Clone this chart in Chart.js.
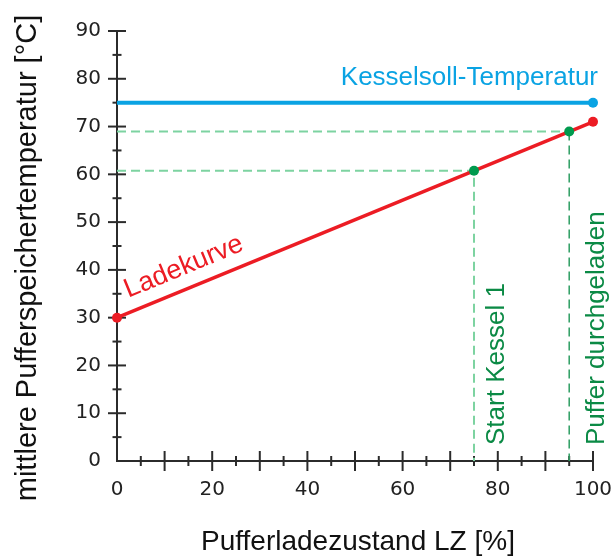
<!DOCTYPE html>
<html>
<head>
<meta charset="utf-8">
<script src="https://cdn.jsdelivr.net/npm/chart.js@4"></script>
<style>
  body { margin: 0; background: #fff; }
</style>
</head>
<body>
<canvas id="ladekurve" width="615" height="556"></canvas>
<script>
// Daten
const lzWerte = [0, 100];            // Pufferladezustand LZ [%]
const ladekurveTemp = [30, 71];      // Ladekurve [°C]
const kesselsollTemp = [75, 75];     // Kesselsoll-Temperatur [°C]
const markerLz = [75, 95];           // Start Kessel 1, Puffer durchgeladen
const markerTemp = [60.75, 68.95];
const markerTexte = ['Start Kessel 1', 'Puffer durchgeladen'];
const xTickLabels = [0, 20, 40, 60, 80, 100];
const yTickLabels = [0, 10, 20, 30, 40, 50, 60, 70, 80, 90];
const xTitel = 'Pufferladezustand LZ [%]';
const yTitel = 'mittlere Pufferspeichertemperatur [°C]';

// Farben
const blau = '#0aa3e3';
const rot = '#ec1c24';
const gruen = '#009a4e';
const gruenText = '#0b8a45';
const gruenHell = '#7dd3a1';
const achsenFarbe = '#2b2b2b';
const schrift = '"Liberation Sans", Arial, sans-serif';

const punkte = (xs, ys) => xs.map((x, i) => ({ x: x, y: ys[i] }));

// Achsen mit Haupt- und Nebenstrichen (kreuzen die Achse), Beschriftungen
const achsenPlugin = {
    id: 'achsen',
    beforeDatasetsDraw(chart) {
        const { ctx, scales: { x, y } } = chart;
        const x0 = x.getPixelForValue(0);
        const y0 = y.getPixelForValue(0);
        ctx.save();
        ctx.strokeStyle = achsenFarbe;
        ctx.lineWidth = 2;
        ctx.beginPath();
        ctx.moveTo(x0, y.getPixelForValue(y.max));
        ctx.lineTo(x0, y0);
        ctx.lineTo(x.getPixelForValue(x.max), y0);
        ctx.stroke();
        for (let v = 5; v <= y.max; v += 5) {
            const len = v % 10 === 0 ? 9 : 4.5;
            const py = y.getPixelForValue(v);
            ctx.beginPath();
            ctx.moveTo(x0 - len, py);
            ctx.lineTo(x0 + len, py);
            ctx.stroke();
        }
        for (let v = 5; v <= x.max; v += 5) {
            const len = v % 10 === 0 ? 10 : 5;
            const px = x.getPixelForValue(v);
            ctx.beginPath();
            ctx.moveTo(px, y0 - len);
            ctx.lineTo(px, y0 + len);
            ctx.stroke();
        }
        ctx.restore();
    },
    afterDatasetsDraw(chart) {
        const { ctx, scales: { x, y } } = chart;
        const y0 = y.getPixelForValue(0);
        ctx.save();
        ctx.font = '26px ' + schrift;
        ctx.textBaseline = 'alphabetic';

        // Kesselsoll-Temperatur
        ctx.fillStyle = blau;
        ctx.textAlign = 'right';
        ctx.fillText('Kesselsoll-Temperatur', x.getPixelForValue(100) + 5, y.getPixelForValue(kesselsollTemp[1]) - 18);

        // Ladekurve, entlang der Linie gedreht
        const ax = x.getPixelForValue(lzWerte[0]), ay = y.getPixelForValue(ladekurveTemp[0]);
        const bx = x.getPixelForValue(lzWerte[1]), by = y.getPixelForValue(ladekurveTemp[1]);
        const winkel = Math.atan2(by - ay, bx - ax);
        const t = 0.035;
        ctx.save();
        ctx.translate(ax + (bx - ax) * t, ay + (by - ay) * t);
        ctx.rotate(winkel);
        ctx.fillStyle = rot;
        ctx.textAlign = 'left';
        ctx.font = '27px ' + schrift;
        ctx.fillText('Ladekurve', 0, -14);
        ctx.restore();

        // senkrechte Beschriftungen
        const abstand = [30, 34.5];
        markerLz.forEach((lz, i) => {
            ctx.save();
            ctx.translate(x.getPixelForValue(lz) + abstand[i], y0 - 16);
            ctx.rotate(-Math.PI / 2);
            ctx.fillStyle = gruenText;
            ctx.textAlign = 'left';
            ctx.fillText(markerTexte[i], 0, 0);
            ctx.restore();
        });

        // Achsentitel
        ctx.fillStyle = '#111';
        ctx.textAlign = 'center';
        ctx.textBaseline = 'middle';
        ctx.font = '28px ' + schrift;
        ctx.fillText(xTitel, (x.left + x.right) / 2 + 3, 542);
        ctx.save();
        ctx.translate(28, 258);
        ctx.rotate(-Math.PI / 2);
        ctx.font = '29px ' + schrift;
        ctx.fillText(yTitel, 0, 0);
        ctx.restore();
        ctx.restore();
    }
};

const ctx = document.getElementById('ladekurve').getContext('2d');
new Chart(ctx, {
    type: 'scatter',
    data: {
        datasets: [
            {
                label: 'Marker',
                data: punkte(markerLz, markerTemp),
                showLine: false,
                pointRadius: 5,
                pointBackgroundColor: gruen,
                pointBorderWidth: 0,
                clip: false,
            },
            {
                label: 'Ladekurve',
                data: punkte(lzWerte, ladekurveTemp),
                showLine: true,
                borderColor: rot,
                borderWidth: 3.5,
                pointRadius: 5,
                pointBackgroundColor: rot,
                pointBorderWidth: 0,
                clip: false,
            },
            {
                label: 'Kesselsoll-Temperatur',
                data: punkte(lzWerte, kesselsollTemp),
                showLine: true,
                borderColor: blau,
                borderWidth: 4,
                pointRadius: [0, 5],
                pointBackgroundColor: blau,
                pointBorderWidth: 0,
                clip: false,
            },
            {
                label: 'Hilfslinie 1',
                data: [{ x: 0, y: markerTemp[0] }, { x: markerLz[0], y: markerTemp[0] }, { x: markerLz[0], y: 0 }],
                showLine: true,
                borderColor: gruenHell,
                borderWidth: 2,
                borderDash: [9, 5],
                pointRadius: 0,
            },
            {
                label: 'Hilfslinie 2',
                data: [{ x: 0, y: markerTemp[1] }, { x: markerLz[1], y: markerTemp[1] }],
                showLine: true,
                borderColor: gruenHell,
                borderWidth: 2,
                borderDash: [9, 5],
                pointRadius: 0,
            },
            {
                label: 'Hilfslinie 3',
                data: [{ x: markerLz[1], y: markerTemp[1] }, { x: markerLz[1], y: 0 }],
                showLine: true,
                borderColor: '#2e9e62',
                borderWidth: 1.5,
                borderDash: [9, 5],
                pointRadius: 0,
            },
        ]
    },
    options: {
        responsive: false,
        animation: false,
        layout: { padding: { top: 31, right: 22, left: 0, bottom: 0 } },
        plugins: {
            legend: { display: false },
            tooltip: { enabled: false },
        },
        scales: {
            x: {
                type: 'linear',
                min: 0,
                max: 100,
                afterFit: s => { s.height = 95; s.paddingLeft = 0; s.paddingRight = 0; },
                afterBuildTicks: s => { s.ticks = xTickLabels.map(v => ({ value: v })); },
                grid: { display: false, drawTicks: false },
                border: { display: false },
                ticks: {
                    padding: 17,
                    color: '#222',
                    font: { family: '"DejaVu Sans", Verdana, sans-serif', size: 20 },
                },
            },
            y: {
                type: 'linear',
                min: 0,
                max: 90,
                afterFit: s => { s.width = 117; s.paddingTop = 0; s.paddingBottom = 0; },
                afterBuildTicks: s => { s.ticks = yTickLabels.map(v => ({ value: v })); },
                grid: { display: false, drawTicks: false },
                border: { display: false },
                ticks: {
                    padding: 16,
                    color: '#222',
                    font: { family: '"DejaVu Sans", Verdana, sans-serif', size: 20 },
                },
            },
        },
    },
    plugins: [achsenPlugin],
});
</script>
</body>
</html>
